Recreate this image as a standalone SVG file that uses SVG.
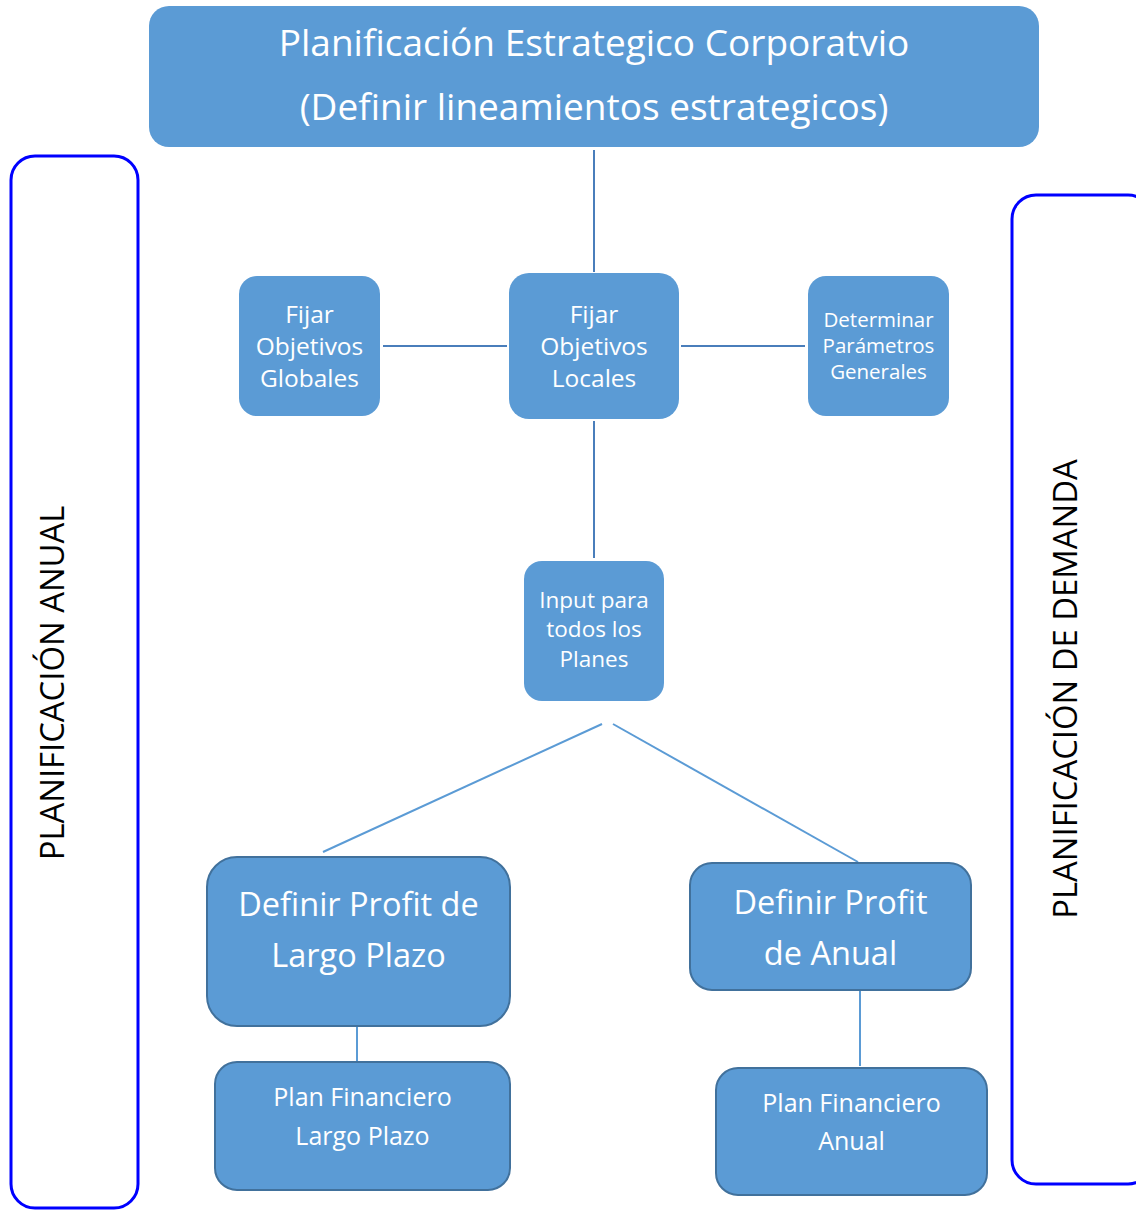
<svg xmlns="http://www.w3.org/2000/svg" width="1136" height="1210" viewBox="0 0 1136 1210">
  <style>
    .box { fill: #5b9bd5; }
    .boxs { fill: #5b9bd5; stroke: #41719c; stroke-width: 2; }
    .frame { fill: #ffffff; stroke: #0000ff; stroke-width: 3; }
    .t { font-family: "Open Sans", "Noto Sans", sans-serif; fill: #ffffff; text-anchor: middle; }
    .side { font-family: "Open Sans", "Noto Sans", sans-serif; fill: #000000; font-size: 32.8px; text-anchor: middle; }
    .dark { stroke: #4a7ebb; stroke-width: 2; fill: none; }
    .light { stroke: #5b9bd5; stroke-width: 2; fill: none; }
  </style>

  <!-- side frames -->
  <g id="frame-anual">
    <rect class="frame" x="11" y="156" width="127" height="1052" rx="24"/>
    <text class="side" transform="translate(64,683) rotate(-90)">PLANIFICACIÓN ANUAL</text>
  </g>
  <g id="frame-demanda">
    <rect class="frame" x="1012" y="195" width="140" height="989" rx="24"/>
    <text class="side" transform="translate(1077,689) rotate(-90)">PLANIFICACIÓN DE DEMANDA</text>
  </g>

  <!-- connectors -->
  <g id="connectors">
    <line class="dark" x1="594" y1="150" x2="594" y2="272"/>
    <line class="dark" x1="383" y1="346" x2="507" y2="346"/>
    <line class="dark" x1="681" y1="346" x2="805" y2="346"/>
    <line class="dark" x1="594" y1="421" x2="594" y2="558"/>
    <line class="light" x1="602" y1="724" x2="323" y2="852"/>
    <line class="light" x1="613" y1="724" x2="858" y2="862"/>
    <line class="light" x1="357" y1="1026" x2="357" y2="1062"/>
    <line class="light" x1="860" y1="990" x2="860" y2="1066"/>
  </g>

  <g id="node-corporativo">
    <rect class="box" x="149" y="6" width="890" height="141" rx="20"/>
    <text class="t" x="594" y="56" font-size="37">Planificación Estrategico Corporatvio</text>
    <text class="t" x="594" y="120" font-size="37">(Definir lineamientos estrategicos)</text>
  </g>

  <g id="node-globales">
    <rect class="box" x="239" y="276" width="141" height="140" rx="18"/>
    <text class="t" x="309.5" y="323" font-size="24.5">Fijar</text>
    <text class="t" x="309.5" y="355" font-size="24.5">Objetivos</text>
    <text class="t" x="309.5" y="387" font-size="24.5">Globales</text>
  </g>

  <g id="node-locales">
    <rect class="box" x="509" y="273" width="170" height="146" rx="20"/>
    <text class="t" x="594" y="323" font-size="24.5">Fijar</text>
    <text class="t" x="594" y="355" font-size="24.5">Objetivos</text>
    <text class="t" x="594" y="387" font-size="24.5">Locales</text>
  </g>

  <g id="node-parametros">
    <rect class="box" x="808" y="276" width="141" height="140" rx="18"/>
    <text class="t" x="878.5" y="327" font-size="20.5">Determinar</text>
    <text class="t" x="878.5" y="353" font-size="20.5">Parámetros</text>
    <text class="t" x="878.5" y="379" font-size="20.5">Generales</text>
  </g>

  <g id="node-input">
    <rect class="box" x="524" y="561" width="140" height="140" rx="18"/>
    <text class="t" x="594" y="608" font-size="22.5">Input para</text>
    <text class="t" x="594" y="637" font-size="22.5">todos los</text>
    <text class="t" x="594" y="667" font-size="22.5">Planes</text>
  </g>

  <g id="node-profit-largo">
    <rect class="boxs" x="207" y="857" width="303" height="169" rx="30"/>
    <text class="t" x="358.5" y="916" font-size="32.5">Definir Profit de</text>
    <text class="t" x="358.5" y="967" font-size="32.5">Largo Plazo</text>
  </g>

  <g id="node-profit-anual">
    <rect class="boxs" x="690" y="863" width="281" height="127" rx="22"/>
    <text class="t" x="830.5" y="914" font-size="32.5">Definir Profit</text>
    <text class="t" x="830.5" y="965" font-size="32.5">de Anual</text>
  </g>

  <g id="node-plan-largo">
    <rect class="boxs" x="215" y="1062" width="295" height="128" rx="22"/>
    <text class="t" x="362.5" y="1106" font-size="25">Plan Financiero</text>
    <text class="t" x="362.5" y="1145" font-size="25">Largo Plazo</text>
  </g>

  <g id="node-plan-anual">
    <rect class="boxs" x="716" y="1068" width="271" height="127" rx="22"/>
    <text class="t" x="851.5" y="1112" font-size="25">Plan Financiero</text>
    <text class="t" x="851.5" y="1150" font-size="25">Anual</text>
  </g>
</svg>
